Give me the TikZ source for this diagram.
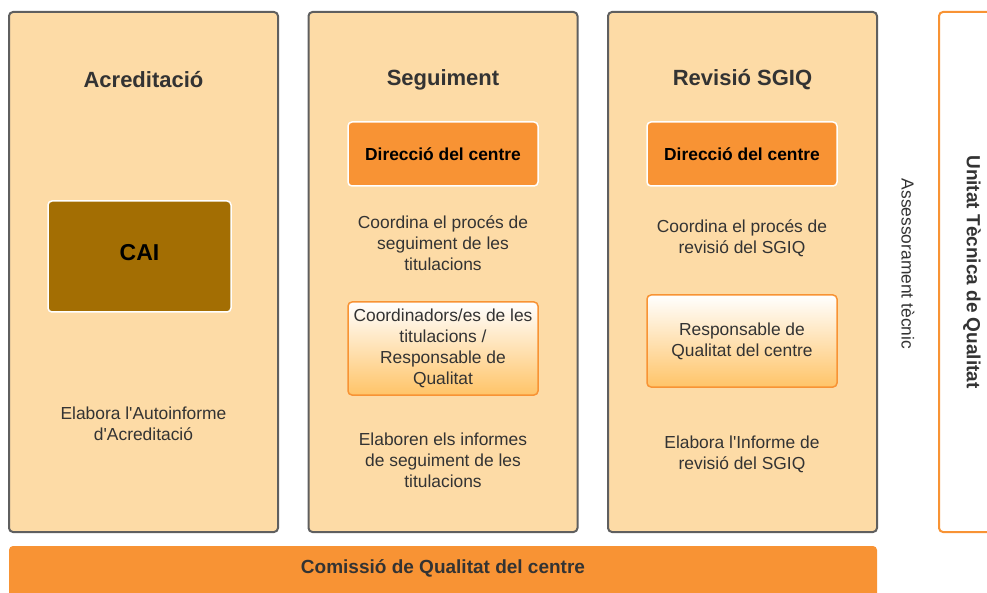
\documentclass[tikz,border=0pt]{standalone}
\usepackage{fontspec}
\setmainfont{Liberation Sans}
\usepackage{tikz}
\usetikzlibrary{positioning,shapes}

\definecolor{peach}{RGB}{253,219,166}
\definecolor{orng}{RGB}{248,147,52}
\definecolor{brwn}{RGB}{163,110,3}
\definecolor{txt}{RGB}{51,51,51}
\definecolor{frame}{RGB}{95,95,95}
\definecolor{lightorng}{RGB}{255,196,104}

\newcommand{\fsz}[2]{\fontsize{#1}{#2}\selectfont}

\begin{document}
\begin{tikzpicture}[x=1pt, y=-1pt,
	panel/.style={draw=frame, line width=2pt, fill=peach, rounded corners=4pt, minimum width=269pt, minimum height=520pt},
	title/.style={text=txt, font=\fsz{22}{26}\bfseries},
	boss/.style={draw=white, line width=1.5pt, fill=orng, rounded corners=4pt, minimum width=190pt, minimum height=64pt, font=\fsz{17.4}{21}\bfseries},
	resp/.style={draw=orng, line width=1.5pt, top color=white, bottom color=lightorng, rounded corners=4pt, minimum width=190pt, text=txt, font=\fsz{17.4}{21}, align=center},
	desc/.style={text=txt, font=\fsz{17.4}{21}, align=center}]
	\useasboundingbox (0, 0) rectangle (987, 593);
	\clip (0, 0) rectangle (987, 593);

	% three panels
	\node [panel] (A) at (143.5, 272) {};
	\node [panel] (S) at (443, 272) {};
	\node [panel] (R) at (742.5, 272) {};
	\node [title] (At) at (143.5, 79.5) {Acreditació};
	\node [title] (St) at (443, 79.5) {Seguiment};
	\node [title] (Rt) at (742.5, 79.5) {Revisió SGIQ};

	% acreditacio
	\node [draw=white, line width=1.5pt, fill=brwn, rounded corners=4pt, minimum width=183pt, minimum height=111pt, text depth=9pt, font=\fsz{23}{27}\bfseries] (CAI) at (139.5, 256.5) {CAI};
	\node [desc] (Ad) at (143.5, 424) {Elabora l\textquotesingle Autoinforme\\d\textquotesingle Acreditació};

	% seguiment
	\node [boss] (Sd) at (443, 154) {Direcció del centre};
	\node [desc] (Sc) at (443, 243) {Coordina el procés de\\seguiment de les\\titulacions};
	\node [resp, minimum height=93pt] (Sr) at (443, 348.5) {Coordinadors/es de les\\titulacions /\\Responsable de\\Qualitat};
	\node [desc] (Se) at (443, 460) {Elaboren els informes\\de seguiment de les\\titulacions};

	% revisio
	\node [boss] (Rd) at (742, 154) {Direcció del centre};
	\node [desc] (Rc) at (742, 238.5) {Coordina el procés de\\revisió del SGIQ};
	\node [resp, minimum height=92pt] (Rr) at (742, 341) {Responsable de\\Qualitat del centre};
	\node [desc] (Re) at (742, 454) {Elabora l\textquotesingle Informe de\\revisió del SGIQ};

	% side and bottom
	\node [desc, rotate=-90] (As) at (908, 264) {Assessorament tècnic};
	\node [draw=orng, line width=2pt, fill=white, rounded corners=4pt, rotate=-90, minimum width=520pt, minimum height=66pt, text=txt, font=\fsz{19}{23}\bfseries] (UTQ) at (972, 272) {Unitat Tècnica de Qualitat};
	\node [fill=orng, rounded corners=4pt, minimum width=868pt, minimum height=60pt] (CQ) at (443, 576) {};
	\node [text=txt, font=\fsz{19}{23}\bfseries] (CQt) at (443, 568) {Comissió de Qualitat del centre};

\end{tikzpicture}
\end{document}
